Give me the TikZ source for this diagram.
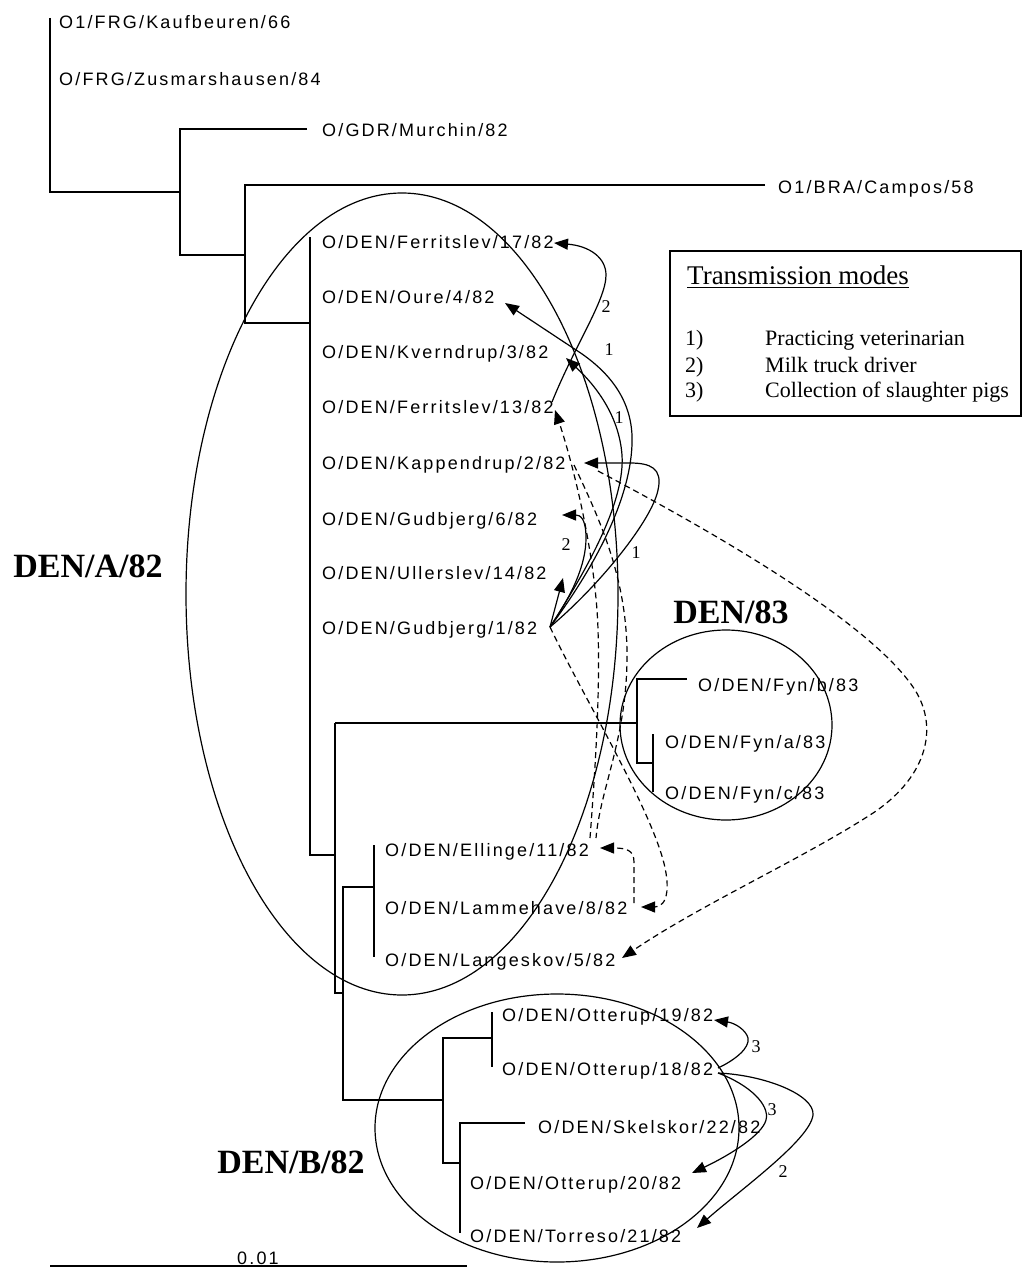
\documentclass[tikz,border=0pt]{standalone}
\usepackage{fontspec}
\setmainfont{Liberation Serif}
\newfontfamily\lsans{Liberation Sans}[LetterSpace=12]
\usetikzlibrary{arrows.meta}
\tikzset{
  branch/.style={line width=1.7pt},
  leaf/.style={anchor=base west, inner sep=0pt, font=\lsans\fontsize{18}{20}\selectfont},
  grp/.style={anchor=base, inner sep=0pt, font=\bfseries\fontsize{34}{36}\selectfont},
  clade/.style={line width=1.2pt},
  tr/.style={line width=1.2pt, -{Triangle[length=14pt,width=11pt]}},
  trd/.style={tr, dash pattern=on 6pt off 4pt},
  dl/.style={line width=1.2pt, dash pattern=on 6pt off 4pt},
  num/.style={inner sep=0pt, font=\fontsize{18}{19}\selectfont},
  legtext/.style={anchor=base west, inner sep=0pt, font=\fontsize{22}{24}\selectfont},
}
\begin{document}
\begin{tikzpicture}[x=1pt,y=-1pt]
\useasboundingbox (0,0) rectangle (1024,1268);
\fill[white] (0,0) rectangle (1024,1268);

% ---------- leaves ----------
\node[leaf] (kauf) at (59,28.5) {O1/FRG/Kaufbeuren/66};
\node[leaf] (zus)  at (59,85.5) {O/FRG/Zusmarshausen/84};
\node[leaf] (mur)  at (322,136.5) {O/GDR/Murchin/82};
\node[leaf] (cam)  at (778,193.5) {O1/BRA/Campos/58};
\node[leaf] (f17)  at (322,248.5) {O/DEN/Ferritslev/17/82};
\node[leaf] (our)  at (322,303.5) {O/DEN/Oure/4/82};
\node[leaf] (kve)  at (322,358.5) {O/DEN/Kverndrup/3/82};
\node[leaf] (f13)  at (322,413.5) {O/DEN/Ferritslev/13/82};
\node[leaf] (kap)  at (322,469.5) {O/DEN/Kappendrup/2/82};
\node[leaf] (gu6)  at (322,525.5) {O/DEN/Gudbjerg/6/82};
\node[leaf] (ull)  at (322,579.5) {O/DEN/Ullerslev/14/82};
\node[leaf] (gu1)  at (322,634.5) {O/DEN/Gudbjerg/1/82};
\node[leaf] (fynb) at (698,691.5) {O/DEN/Fyn/b/83};
\node[leaf] (fyna) at (665,748.5) {O/DEN/Fyn/a/83};
\node[leaf] (fync) at (665,799.5) {O/DEN/Fyn/c/83};
\node[leaf] (ell)  at (385,856.5) {O/DEN/Ellinge/11/82};
\node[leaf] (lam)  at (385,914.5) {O/DEN/Lammehave/8/82};
\node[leaf] (lan)  at (385,966.5) {O/DEN/Langeskov/5/82};
\node[leaf] (o19)  at (502,1021.5) {O/DEN/Otterup/19/82};
\node[leaf] (o18)  at (502,1075.5) {O/DEN/Otterup/18/82};
\node[leaf] (ske)  at (538,1133.5) {O/DEN/Skelskor/22/82};
\node[leaf] (o20)  at (470,1189.5) {O/DEN/Otterup/20/82};
\node[leaf] (tor)  at (470,1242.5) {O/DEN/Torreso/21/82};

% ---------- tree ----------
\draw[branch] (50,18) -- (50,192) -- (180,192);
\draw[branch] (307,129) -- (180,129) -- (180,255) -- (245,255);
\draw[branch] (765,185) -- (245,185) -- (245,323) -- (310,323);
\draw[branch] (310,237) -- (310,855) -- (335,855);
\draw[branch] (335,723) -- (335,993) -- (343,993);
\draw[branch] (335,723) -- (637,723);
\draw[branch] (687,679) -- (637,679) -- (637,763) -- (653,763);
\draw[branch] (653,734) -- (653,792);
\draw[branch] (374,887) -- (343,887) -- (343,1100) -- (443,1100);
\draw[branch] (374,845) -- (374,957);
\draw[branch] (492,1038) -- (443,1038) -- (443,1163) -- (460,1163);
\draw[branch] (492,1012) -- (492,1067);
\draw[branch] (525,1123) -- (460,1123) -- (460,1233);

% scale bar
\draw[branch] (50,1266) -- (467,1266);
\node[anchor=base, inner sep=0pt, font=\lsans\fontsize{18}{20}\selectfont] (scale) at (258,1264) {0.01};

% ---------- clades ----------
\draw[clade] (402,594) ellipse [x radius=216pt, y radius=401pt];
\draw[clade] (726,725) ellipse [x radius=106pt, y radius=95pt];
\draw[clade] (557,1128) ellipse [x radius=182pt, y radius=134pt];
\node[grp] (denA) at (88,577) {DEN/A/82};
\node[grp] (den83) at (731,623) {DEN/83};
\node[grp] (denB) at (291,1173) {DEN/B/82};

% ---------- legend ----------
\draw[line width=1.8pt] (670,251) rectangle (1021,416);
\node[anchor=base west, inner sep=0pt, font=\fontsize{27}{29}\selectfont] (title) at (687,284) {Transmission modes};
\draw[line width=1pt] ([yshift=-3pt]title.base west) -- ([yshift=-3pt]title.base east);
\node[legtext] (k1) at (685,345) {1)};
\node[legtext] (k2) at (685,372) {2)};
\node[legtext] (k3) at (685,397) {3)};
\node[legtext] (m1) at (765,345) {Practicing veterinarian};
\node[legtext] (m2) at (765,372) {Milk truck driver};
\node[legtext] (m3) at (765,397) {Collection of slaughter pigs};

% ---------- transmissions DEN/A ----------
\coordinate (g1) at (550,627);
\draw[tr] (552,402) .. controls (575,345) and (606,300) .. (606,275) .. controls (606,258) and (590,246) .. (554,243);
\draw[tr] (g1) .. controls (600,560) and (634,490) .. (632,435) .. controls (630,395) and (605,368) .. (573,348) -- (505,303);
\draw[tr] (g1) .. controls (590,565) and (625,500) .. (622,455) .. controls (619,415) and (595,385) .. (566,358);
\draw[tr] (g1) .. controls (600,585) and (652,520) .. (658,490) .. controls (663,468) and (650,463) .. (630,463) -- (584,463);
\draw[tr] (g1) .. controls (572,595) and (586,565) .. (586,538) .. controls (586,518) and (580,515) .. (562,515);
\draw[tr] (g1) -- (563,578);

\draw[trd] (590,838) .. controls (596,760) and (600,690) .. (598,630) .. controls (596,560) and (575,470) .. (555,410);
\draw[dl] (574,465) .. controls (600,520) and (628,580) .. (627,660) .. controls (626,740) and (600,790) .. (596,838);
\draw[trd] (g1) .. controls (580,690) and (640,790) .. (660,850) .. controls (672,885) and (668,907) .. (641,907);
\draw[trd] (634,903) -- (634,862) .. controls (634,850) and (626,848) .. (600,848);
\draw[trd] (598,471) .. controls (700,525) and (870,620) .. (915,690) .. controls (940,730) and (925,780) .. (870,815) .. controls (800,860) and (700,905) .. (622,958);

\node[num] (n1) at (606,307) {2};
\node[num] (n2) at (609,350) {1};
\node[num] (n3) at (619,418) {1};
\node[num] (n4) at (566,545) {2};
\node[num] (n5) at (636,553) {1};

% ---------- transmissions DEN/B ----------
\draw[tr] (718,1068) .. controls (735,1060) and (750,1048) .. (748,1038) .. controls (746,1030) and (735,1023) .. (714,1020);
\draw[tr] (718,1073) .. controls (765,1075) and (815,1095) .. (813,1115) .. controls (810,1140) and (740,1190) .. (697,1228);
\draw[tr] (718,1073) .. controls (750,1085) and (770,1105) .. (766,1120) .. controls (762,1135) and (730,1155) .. (692,1173);
\node[num] (n6) at (756,1047) {3};
\node[num] (n7) at (772,1110) {3};
\node[num] (n8) at (783,1172) {2};
\end{tikzpicture}
\end{document}
